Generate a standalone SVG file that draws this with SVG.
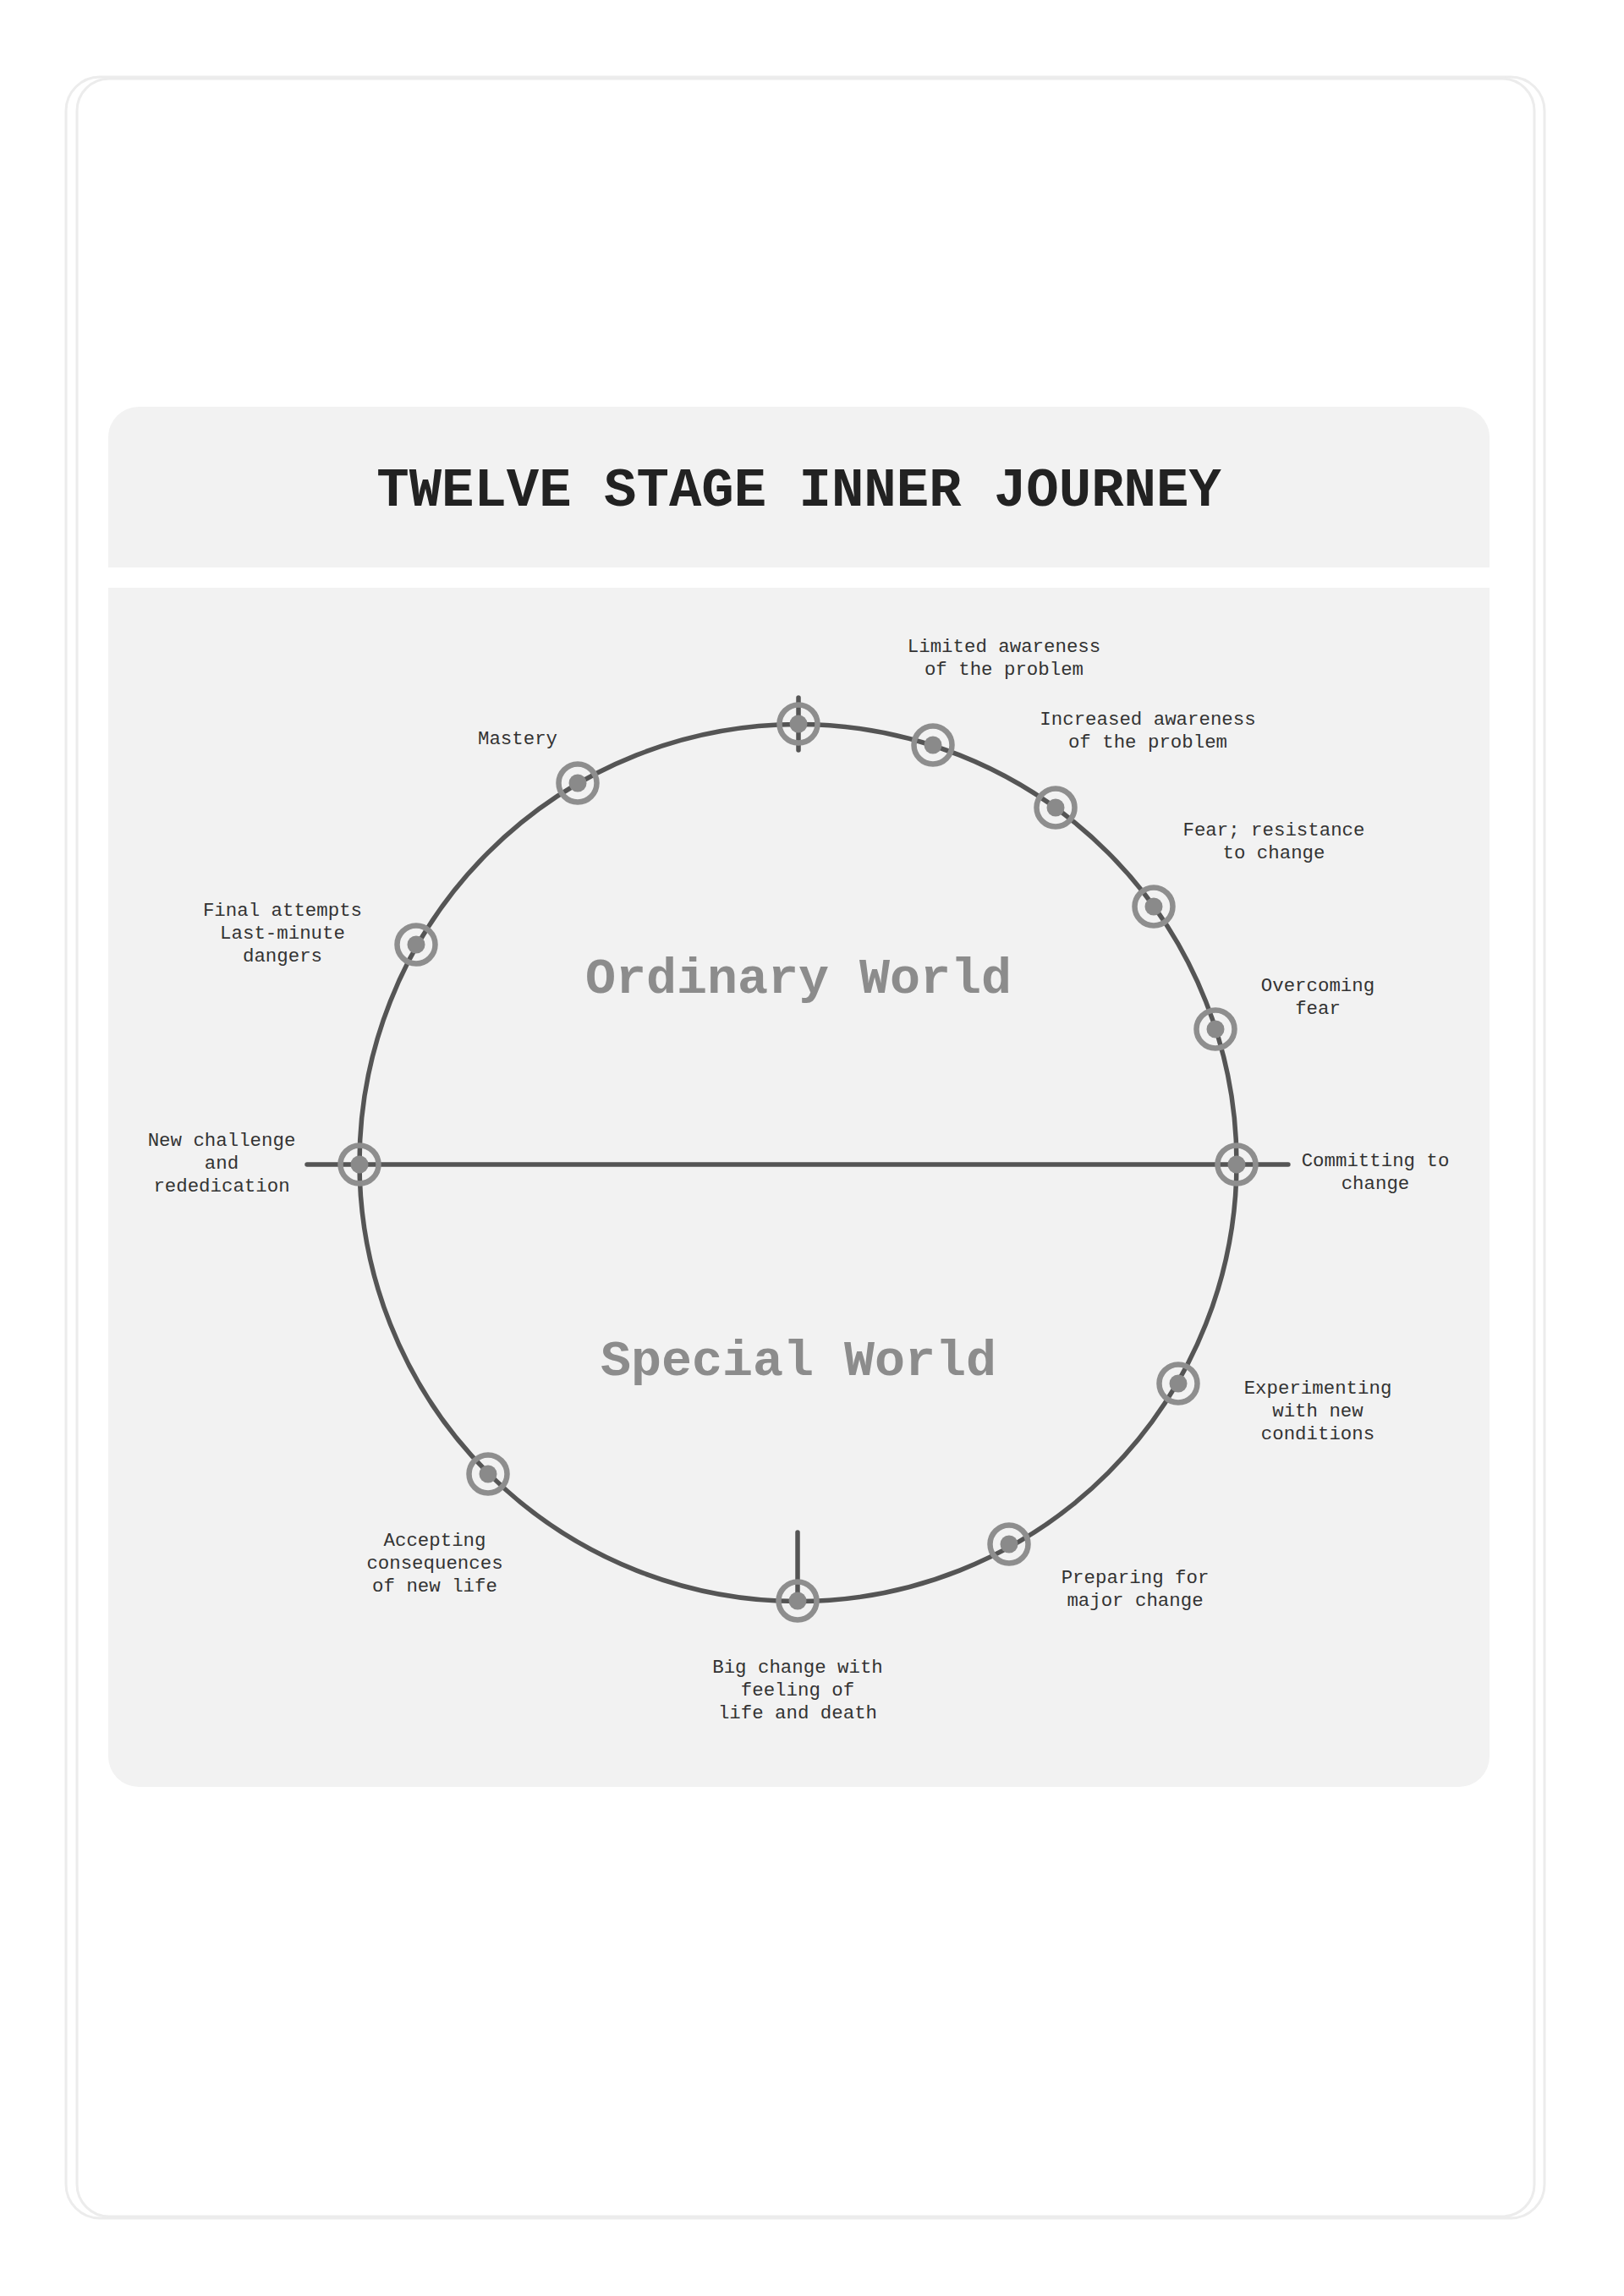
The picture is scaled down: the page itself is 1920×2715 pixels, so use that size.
<svg xmlns="http://www.w3.org/2000/svg" width="1920" height="2715" viewBox="0 0 1920 2715">
<style>
.frame{fill:none;stroke:#ececec;stroke-width:3}
.panel{fill:#f2f2f2}
.title{font-family:"Liberation Mono","Courier New",monospace;font-weight:bold;font-size:64px;fill:#222;text-anchor:middle}
.world{font-family:"Liberation Mono","Courier New",monospace;font-weight:bold;font-size:60px;fill:#8c8c8c;text-anchor:middle}
.lbl{font-family:"Liberation Mono","Courier New",monospace;font-size:22.4px;fill:#333;text-anchor:middle}
.track{fill:none;stroke:#555;stroke-width:5.5;stroke-linecap:round}
.ring{fill:none;stroke:#8e8e8e;stroke-width:6.5}
.dot{fill:#8a8a8a}
</style>
<defs>
<g id="node"><circle class="ring" r="22.5"/><circle class="dot" r="10.5"/></g>
</defs>
<rect width="1920" height="2715" fill="#ffffff"/>
<rect class="frame" x="78" y="91" width="1748" height="2532" rx="40"/>
<rect class="frame" x="91" y="93" width="1723" height="2528" rx="38"/>
<g id="header">
<path class="panel" d="M128,671 V517 A36,36 0 0 1 164,481 H1725 A36,36 0 0 1 1761,517 V671 Z"/>
<text class="title" x="944.5" y="598">TWELVE STAGE INNER JOURNEY</text>
</g>
<g id="main-panel">
<path class="panel" d="M128,695 H1761 V2077 A36,36 0 0 1 1725,2113 H164 A36,36 0 0 1 128,2077 Z"/>
</g>
<g id="connectors">
<circle class="track" cx="943.5" cy="1375" r="518.5"/>
<line class="track" x1="363" y1="1377" x2="1523" y2="1377"/>
<line class="track" x1="944" y1="825" x2="944" y2="887"/>
<line class="track" x1="943" y1="1812" x2="943" y2="1893"/>
</g>
<g id="worlds">
<text class="world" x="944" y="1174">Ordinary World</text>
<text class="world" x="944" y="1626">Special World</text>
</g>
<g id="node-start"><use href="#node" x="944" y="856"/></g>
<g id="node-limited"><use href="#node" x="1103" y="881"/>
<text class="lbl" x="1187" y="771">Limited awareness</text><text class="lbl" x="1187" y="798">of the problem</text></g>
<g id="node-increased"><use href="#node" x="1248" y="955"/>
<text class="lbl" x="1357" y="857">Increased awareness</text><text class="lbl" x="1357" y="884">of the problem</text></g>
<g id="node-fear"><use href="#node" x="1364" y="1072"/>
<text class="lbl" x="1506" y="988">Fear; resistance</text><text class="lbl" x="1506" y="1015">to change</text></g>
<g id="node-overcoming"><use href="#node" x="1437" y="1217"/>
<text class="lbl" x="1558" y="1172">Overcoming</text><text class="lbl" x="1558" y="1199">fear</text></g>
<g id="node-committing"><use href="#node" x="1462" y="1377"/>
<text class="lbl" x="1626" y="1379">Committing to</text><text class="lbl" x="1626" y="1406">change</text></g>
<g id="node-experimenting"><use href="#node" x="1393" y="1636"/>
<text class="lbl" x="1558" y="1648">Experimenting</text><text class="lbl" x="1558" y="1675">with new</text><text class="lbl" x="1558" y="1702">conditions</text></g>
<g id="node-preparing"><use href="#node" x="1193" y="1826"/>
<text class="lbl" x="1342" y="1872">Preparing for</text><text class="lbl" x="1342" y="1899">major change</text></g>
<g id="node-bigchange"><use href="#node" x="943" y="1893"/>
<text class="lbl" x="943" y="1978">Big change with</text><text class="lbl" x="943" y="2005">feeling of</text><text class="lbl" x="943" y="2032">life and death</text></g>
<g id="node-accepting"><use href="#node" x="577" y="1743"/>
<text class="lbl" x="514" y="1828">Accepting</text><text class="lbl" x="514" y="1855">consequences</text><text class="lbl" x="514" y="1882">of new life</text></g>
<g id="node-newchallenge"><use href="#node" x="425" y="1377"/>
<text class="lbl" x="262" y="1355">New challenge</text><text class="lbl" x="262" y="1382">and</text><text class="lbl" x="262" y="1409">rededication</text></g>
<g id="node-final"><use href="#node" x="492" y="1117"/>
<text class="lbl" x="334" y="1083">Final attempts</text><text class="lbl" x="334" y="1110">Last-minute</text><text class="lbl" x="334" y="1137">dangers</text></g>
<g id="node-mastery"><use href="#node" x="683" y="926"/>
<text class="lbl" x="612" y="880">Mastery</text></g>
</svg>
